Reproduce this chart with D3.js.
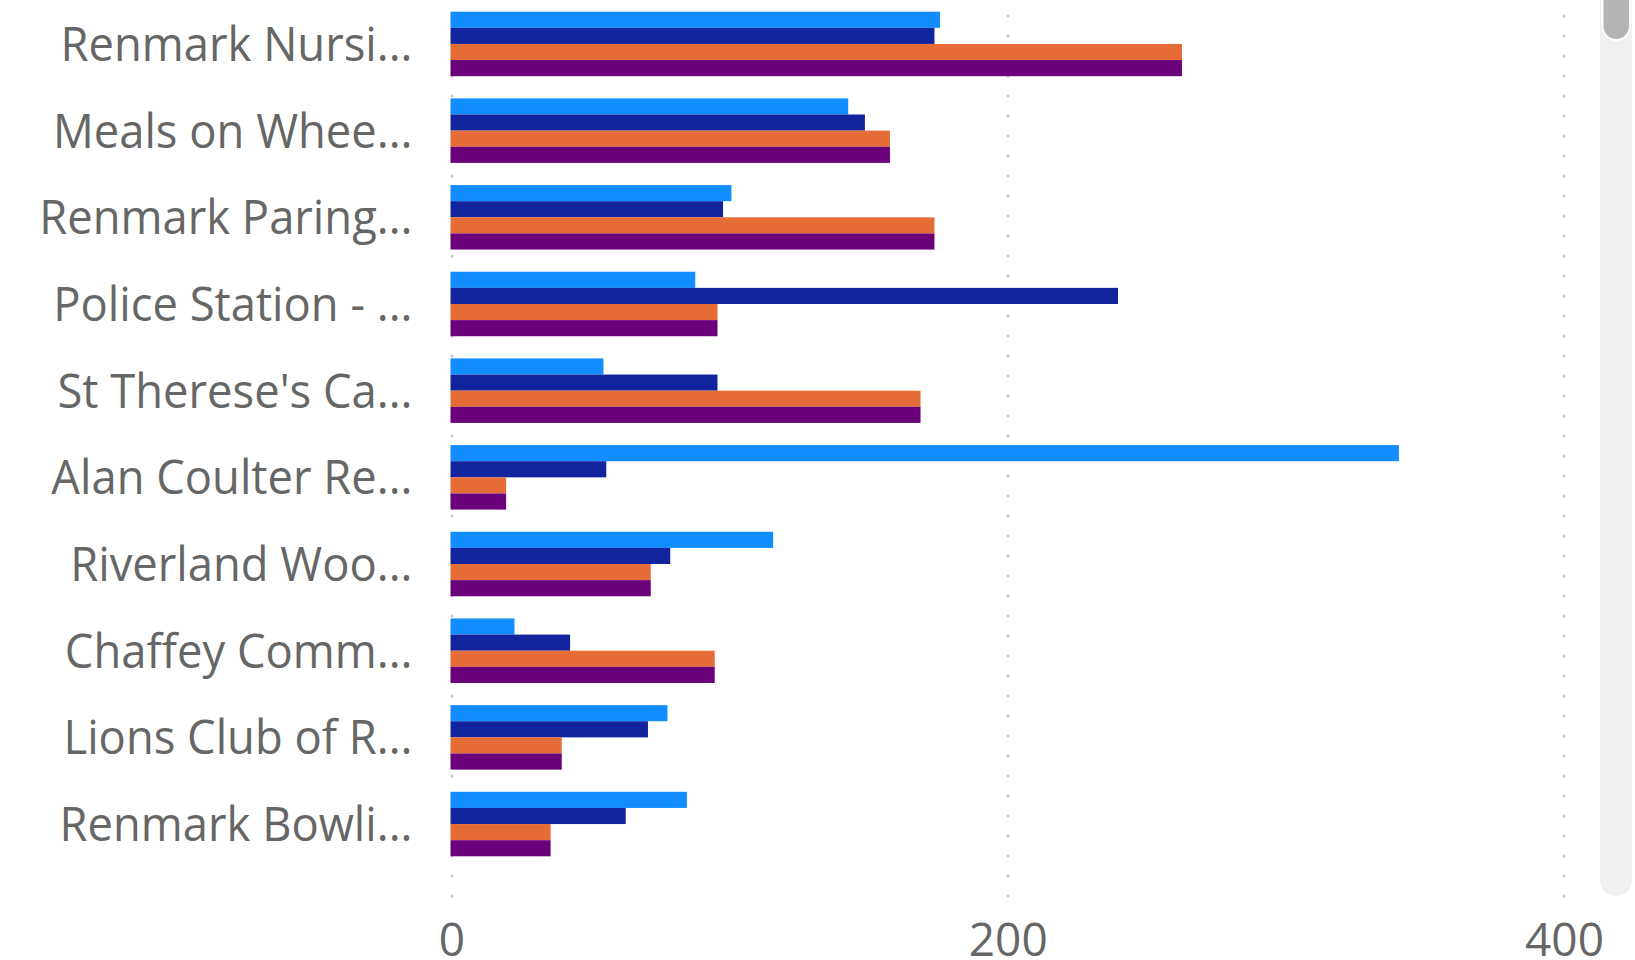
<!DOCTYPE html>
<html>
<head>
<meta charset="utf-8">
<script src="https://cdn.jsdelivr.net/npm/d3@7"></script>
<style>
  html, body { margin: 0; padding: 0; background: #ffffff; overflow: hidden; }
  svg { display: block; }
</style>
</head>
<body>
<svg id="chart" width="1635" height="960"></svg>
<script>
// ---- data ----
const categories = [
  "Renmark Nursi...",
  "Meals on Whee...",
  "Renmark Paring...",
  "Police Station - ...",
  "St Therese's Ca...",
  "Alan Coulter Re...",
  "Riverland Woo...",
  "Chaffey Comm...",
  "Lions Club of R...",
  "Renmark Bowli..."
];
const seriesNames = ["Series 1", "Series 2", "Series 3", "Series 4"];
const series1 = [176, 143, 101, 88, 55, 341, 116, 23, 78, 85];
const series2 = [174, 149, 98, 240, 96, 56, 79, 43, 71, 63];
const series3 = [263, 158, 174, 96, 169, 20, 72, 95, 40, 36];
const series4 = [263, 158, 174, 96, 169, 20, 72, 95, 40, 36];
const xTickValues = [0, 200, 400];
const seriesColors = ["#118DFF", "#12239E", "#E66C37", "#6B007B"];

const seriesValues = [series1, series2, series3, series4];

// ---- layout ----
const svg = d3.select("#chart");
const x = d3.scaleLinear().domain([0, 400]).range([450.5, 1563]);
const y = d3.scaleBand().domain(categories).range([0, 868]).paddingInner(0.256).paddingOuter(0.135);
const ySub = d3.scaleBand().domain(seriesNames).range([0, y.bandwidth()]);
const color = d3.scaleOrdinal().domain(seriesNames).range(seriesColors);

const fontFamily = "'Open Sans', 'Segoe UI', sans-serif";
const textColor = "#666666";

// gridlines (dotted)
const grid = svg.append("g").attr("class", "grid");
grid.selectAll("line")
  .data(xTickValues)
  .join("line")
  .attr("x1", d => Math.round(x(d)) + 1)
  .attr("x2", d => Math.round(x(d)) + 1)
  .attr("y1", 16)
  .attr("y2", 898)
  .attr("stroke", "#c8c8c8")
  .attr("stroke-width", 3)
  .attr("stroke-linecap", "round")
  .attr("stroke-dasharray", "0 20");

// bars
const groups = svg.append("g").selectAll("g")
  .data(categories)
  .join("g")
  .attr("transform", d => `translate(0,${y(d)})`);

groups.selectAll("rect")
  .data((c, i) => seriesNames.map((s, j) => ({ s, v: seriesValues[j][i] })))
  .join("rect")
  .attr("x", x(0))
  .attr("y", d => ySub(d.s))
  .attr("width", d => x(d.v) - x(0))
  .attr("height", ySub.bandwidth())
  .attr("fill", d => color(d.s));

// category labels
const yAxis = d3.axisLeft(y).tickSize(0).tickPadding(38);
const yG = svg.append("g")
  .attr("transform", `translate(${x(0)},0)`)
  .call(yAxis);
yG.select(".domain").remove();
yG.selectAll("text")
  .attr("fill", textColor)
  .attr("font-family", fontFamily)
  .attr("font-size", 47)
  .attr("dy", "0.36em");
yG.selectAll("text").each(function() {
  const w = this.getComputedTextLength();
  d3.select(this).attr("textLength", w * 0.965).attr("lengthAdjust", "spacingAndGlyphs");
});

// x axis labels
const xAxis = d3.axisBottom(x).tickValues(xTickValues).tickSize(0).tickPadding(0).tickFormat(d3.format("d"));
const xG = svg.append("g")
  .attr("transform", `translate(1,956)`)
  .call(xAxis);
xG.select(".domain").remove();
xG.selectAll("text")
  .attr("fill", textColor)
  .attr("font-family", fontFamily)
  .attr("font-size", 46)
  .attr("dy", 0)
  .attr("y", 0);

// scrollbar
svg.append("rect")
  .attr("x", 1600).attr("y", -20)
  .attr("width", 32).attr("height", 916)
  .attr("rx", 16).attr("ry", 16)
  .attr("fill", "#f0f0f0");
svg.append("rect")
  .attr("x", 1602.5).attr("y", -20)
  .attr("width", 27.5).attr("height", 60)
  .attr("rx", 13.75).attr("ry", 13.75)
  .attr("fill", "#b4b4b4")
  .attr("stroke", "#ffffff")
  .attr("stroke-width", 2);
</script>
</body>
</html>
